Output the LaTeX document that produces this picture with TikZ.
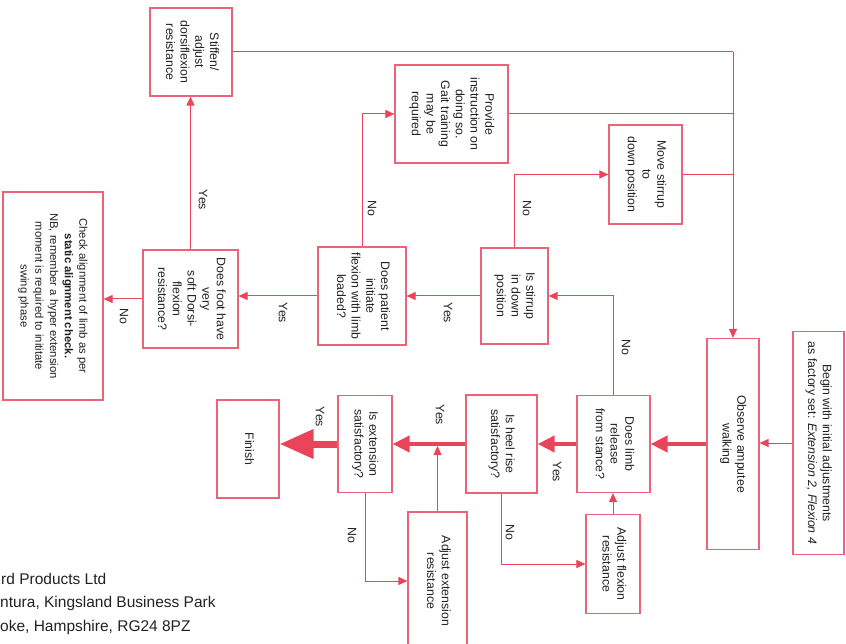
\documentclass[tikz,border=0pt]{standalone}
\usepackage{fontspec}
\setmainfont{Liberation Sans}
\usepackage{graphicx}
\usetikzlibrary{arrows.meta}
\definecolor{ln}{RGB}{234,68,90}
\definecolor{bx}{RGB}{236,98,118}
\definecolor{tx}{RGB}{34,34,34}
\newcommand{\rtext}[1]{\rotatebox{-90}{\begin{tabular}{@{}c@{}}#1\end{tabular}}}
\tikzset{
  box/.style={draw=bx, line width=1.2pt, inner sep=0pt, text=tx, font=\fontsize{12.3}{14.7}\selectfont},
  conn/.style={draw=ln, line width=1pt, -{Triangle[length=9pt,width=8pt]}},
  plainline/.style={draw=ln, line width=1pt},
  thickconn/.style={draw=ln, line width=4pt, -{Triangle[length=17pt,width=16pt]}},
  bigconn/.style={draw=ln, line width=7pt, -{Triangle[length=34pt,width=28pt]}},
  lbl/.style={rotate=-90, font=\fontsize{12.3}{14.7}\selectfont, text=tx, inner sep=0pt},
  addr/.style={anchor=west, inner sep=0pt, font=\fontsize{15.5}{18}\selectfont, text=tx}
}
\begin{document}
\begin{tikzpicture}[x=1pt,y=-1pt]
\path[fill=white, use as bounding box] (0,0) rectangle (846,644);

% boxes
\node[box, minimum width=82, minimum height=88] (stiffen) at (191,52) {\rtext{Stiffen/\\adjust\\dorsiflexion\\resistance}};
\node[box, minimum width=113, minimum height=98] (provide) at (451.5,114) {\rtext{Provide\\instruction on\\doing so.\\Gait training\\may be\\required}};
\node[box, minimum width=73, minimum height=99] (move) at (645.5,174.5) {\rtext{Move stirrup\\to\\down position}};
\node[box, minimum width=100, minimum height=208, font=\fontsize{11.3}{14.7}\selectfont] (check) at (53,296) {\rtext{Check alignment of limb as per\\\textbf{static alignment check.}\\NB, remember a hyper extension\\moment is required to inititate\\swing phase}};
\node[box, minimum width=95, minimum height=98] (foot) at (190.5,299) {\rtext{Does foot have\\very\\soft Dorsi-\\flexion\\resistance?}};
\node[box, minimum width=88, minimum height=98] (patient) at (362,296) {\rtext{Does patient\\initiate\\flexion with limb\\loaded?}};
\node[box, minimum width=67, minimum height=96] (stirrup) at (514.5,296) {\rtext{Is stirrup\\in down\\position}};
\node[box, minimum width=52, minimum height=211] (observe) at (733,444) {\rtext{Observe amputee\\walking}};
\node[box, minimum width=51, minimum height=223] (begin) at (818.5,443) {\rtext{Begin with initial adjustments\\as factory set: \textit{Extension 2, Flexion 4}}};
\node[box, minimum width=73, minimum height=97] (limb) at (613.5,444) {\rtext{Does limb\\release\\from stance?}};
\node[box, minimum width=71, minimum height=98] (heel) at (501.5,444) {\rtext{Is heel rise\\satisfactory?}};
\node[box, minimum width=54, minimum height=97] (ext) at (365,444) {\rtext{Is extension\\satisfactory?}};
\node[box, minimum width=62, minimum height=98] (finish) at (248,449) {\rtext{Finish}};
\node[box, minimum width=59, minimum height=138] (adjext) at (437.5,581) {\rtext{Adjust extension\\resistance}};
\node[box, minimum width=54, minimum height=99] (adjflex) at (613,564) {\rtext{Adjust flexion\\resistance}};

% main line
\draw[conn] (begin.west) -- (begin.west -| observe.east);
\draw[thickconn] (observe.west) -- (limb.east);
\draw[thickconn] (limb.west) -- (heel.east);
\draw[thickconn] (heel.west) -- (ext.east);
\draw[bigconn] (ext.west) -- (ext.west -| finish.east);
\draw[conn] (adjext.north) -- ([yshift=-2pt]adjext.north |- heel.west);
\draw[conn] (adjflex.north) -- (adjflex.north |- limb.south);
\draw[conn] (ext.south) |- (adjext.west);
\draw[conn] (heel.south) |- (adjflex.west);
\draw[conn] (limb.north) |- (stirrup.east);
\draw[conn] (stirrup.north) |- (move.west);
\draw[conn] (patient.north) |- (provide.west);
\draw[conn] (stirrup.west) -- (patient.east);
\draw[conn] (patient.west) -- (patient.west -| foot.east);
\draw[conn] (foot.west) -- (foot.west -| check.east);
\draw[conn] (foot.north) -- (foot.north |- stiffen.south);

% return lines
\coordinate (jtop) at (stiffen.east -| observe.north);
\draw[plainline] (stiffen.east) -- (jtop);
\draw[conn] (jtop) -- (observe.north);
\draw[plainline] (provide.east) -- (provide.east -| observe.north);
\draw[plainline] (move.east) -- (move.east -| observe.north);

% labels
\node[lbl] at (203,200) {Yes};
\node[lbl] at (124,316) {No};
\node[lbl] at (283,313) {Yes};
\node[lbl] at (372,208) {No};
\node[lbl] at (448,313) {Yes};
\node[lbl] at (527,208) {No};
\node[lbl] at (626,347) {No};
\node[lbl] at (557,472) {Yes};
\node[lbl] at (440,415) {Yes};
\node[lbl] at (320,417) {Yes};
\node[lbl] at (352,535) {No};
\node[lbl] at (510,532) {No};

% address
\node[addr] (a1) at (1,579) {rd Products Ltd};
\node[addr] (a2) at (0,603) {ntura, Kingsland Business Park};
\node[addr] (a3) at (0,627) {oke, Hampshire, RG24 8PZ};
\end{tikzpicture}
\end{document}
